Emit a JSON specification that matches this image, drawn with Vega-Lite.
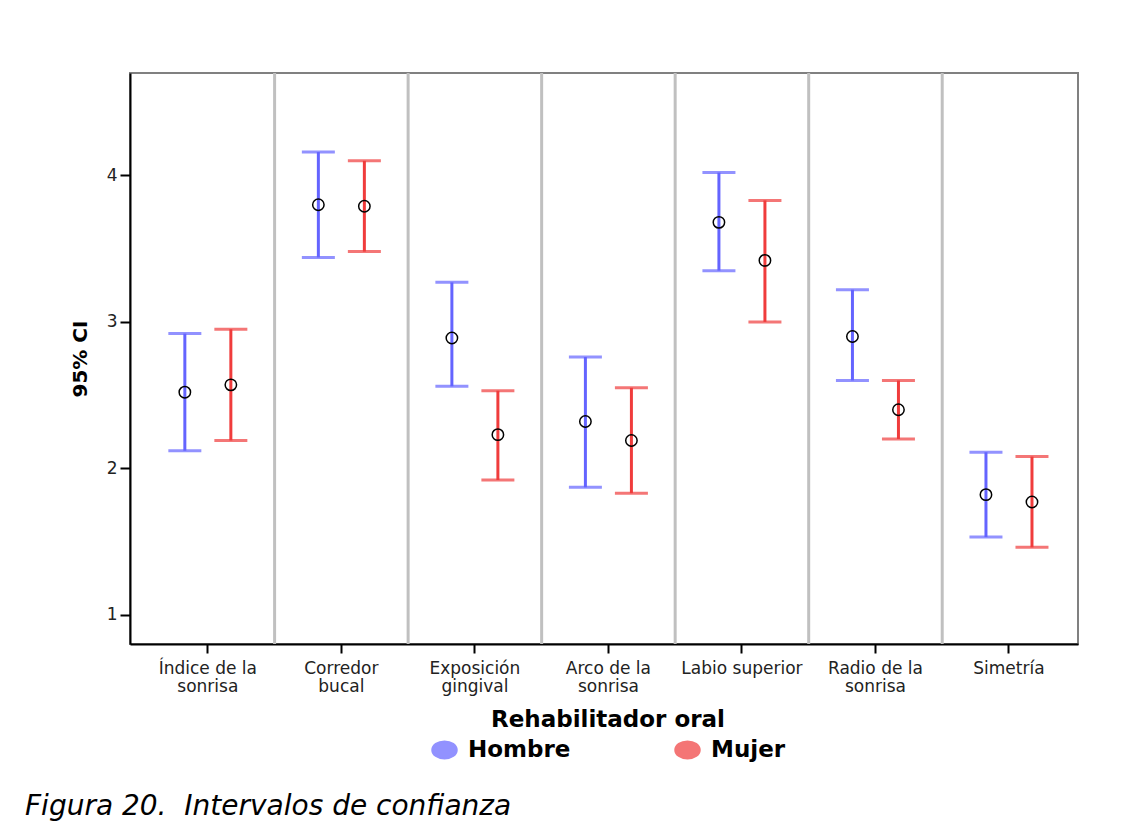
{
  "$schema": "https://vega.github.io/schema/vega-lite/v6.json",
  "width": 948,
  "height": 571,
  "autosize": {"type": "none"},
  "padding": {"left": 130, "top": 73, "right": 52, "bottom": 190},
  "background": "white",
  "title": {
    "text": "Figura 20.\u00a0 Intervalos de confianza",
    "orient": "bottom",
    "anchor": "start",
    "frame": "group",
    "font": "DejaVu Sans",
    "fontStyle": "italic",
    "fontWeight": "normal",
    "fontSize": 28,
    "color": "black",
    "dx": -105,
    "offset": 30
  },
  "config": {
    "view": {"stroke": "#808080", "strokeWidth": 2},
    "axis": {"grid": false, "labelFont": "DejaVu Sans", "labelFontSize": 17, "labelColor": "#222", "tickColor": "black", "domainColor": "black", "domainWidth": 2, "tickWidth": 2}
  },
  "data": {
    "values": [
      {"categoria": "Índice de la sonrisa", "sexo": "Hombre", "media": 2.52, "inferior": 2.12, "superior": 2.92},
      {"categoria": "Índice de la sonrisa", "sexo": "Mujer", "media": 2.57, "inferior": 2.19, "superior": 2.95},
      {"categoria": "Corredor bucal", "sexo": "Hombre", "media": 3.80, "inferior": 3.44, "superior": 4.16},
      {"categoria": "Corredor bucal", "sexo": "Mujer", "media": 3.79, "inferior": 3.48, "superior": 4.10},
      {"categoria": "Exposición gingival", "sexo": "Hombre", "media": 2.89, "inferior": 2.56, "superior": 3.27},
      {"categoria": "Exposición gingival", "sexo": "Mujer", "media": 2.23, "inferior": 1.92, "superior": 2.53},
      {"categoria": "Arco de la sonrisa", "sexo": "Hombre", "media": 2.32, "inferior": 1.87, "superior": 2.76},
      {"categoria": "Arco de la sonrisa", "sexo": "Mujer", "media": 2.19, "inferior": 1.83, "superior": 2.55},
      {"categoria": "Labio superior", "sexo": "Hombre", "media": 3.68, "inferior": 3.35, "superior": 4.02},
      {"categoria": "Labio superior", "sexo": "Mujer", "media": 3.42, "inferior": 3.00, "superior": 3.83},
      {"categoria": "Radio de la sonrisa", "sexo": "Hombre", "media": 2.90, "inferior": 2.60, "superior": 3.22},
      {"categoria": "Radio de la sonrisa", "sexo": "Mujer", "media": 2.40, "inferior": 2.20, "superior": 2.60},
      {"categoria": "Simetría", "sexo": "Hombre", "media": 1.82, "inferior": 1.53, "superior": 2.11},
      {"categoria": "Simetría", "sexo": "Mujer", "media": 1.77, "inferior": 1.46, "superior": 2.08}
    ]
  },
  "encoding": {
    "x": {
      "field": "categoria",
      "type": "nominal",
      "sort": null,
      "scale": {"paddingInner": 0, "paddingOuter": 0.05, "align": 0.83},
      "axis": {
        "title": null,
        "labelAngle": 0,
        "tickSize": 9,
        "labelPadding": 7,
        "labelLineHeight": 18,
        "labelExpr": "indexof(datum.label, ' sonrisa') > 0 ? [replace(datum.label, ' sonrisa', ''), 'sonrisa'] : (datum.label == 'Corredor bucal' || datum.label == 'Exposición gingival') ? split(datum.label, ' ') : datum.label"
      }
    }
  },
  "layer": [
    {
      "transform": [{"filter": "datum.sexo == 'Hombre' && datum.categoria != 'Simetría'"}],
      "mark": {"type": "rule", "color": "#c0c0c0", "strokeWidth": 3},
      "encoding": {
        "x": {"field": "categoria", "type": "nominal", "sort": null, "bandPosition": 1}
      }
    },
    {
      "mark": {"type": "rule", "strokeWidth": 3},
      "encoding": {
        "xOffset": {"field": "sexo", "type": "nominal", "scale": {"paddingInner": 0, "paddingOuter": 0.451}},
        "y": {
          "field": "inferior",
          "type": "quantitative",
          "scale": {"domain": [0.8, 4.7], "nice": false, "zero": false},
          "axis": {
            "title": "95% CI",
            "values": [1, 2, 3, 4],
            "format": "d",
            "titleFont": "DejaVu Sans",
            "titleFontSize": 20,
            "titleFontWeight": "bold",
            "titleColor": "black",
            "titlePadding": 16,
            "tickSize": 10,
            "labelPadding": 3
          }
        },
        "y2": {"field": "superior"},
        "color": {
          "field": "sexo",
          "type": "nominal",
          "scale": {"domain": ["Hombre", "Mujer"], "range": ["#6464ff", "#f03c3c"]},
          "legend": {
            "title": "Rehabilitador oral",
            "orient": "none",
            "legendX": 301,
            "legendY": 636,
            "direction": "horizontal",
            "titleAnchor": "middle",
            "titleFont": "DejaVu Sans",
            "titleFontSize": 23,
            "titleFontWeight": "bold",
            "titleColor": "black",
            "titleLimit": 500,
            "titlePadding": 4,
            "labelFont": "DejaVu Sans",
            "labelFontSize": 23,
            "labelFontWeight": "bold",
            "labelColor": "black",
            "labelLimit": 300,
            "labelOffset": 10,
            "columnPadding": 100,
            "symbolType": "M-1,0A1,0.7,0,1,0,1,0A1,0.7,0,1,0,-1,0Z",
            "symbolSize": 600,
            "symbolStrokeColor": "black",
            "symbolStrokeWidth": 2,
            "symbolOpacity": 1
          }
        }
      }
    },
    {
      "mark": {"type": "tick", "size": 33, "thickness": 3},
      "encoding": {
        "xOffset": {"field": "sexo", "type": "nominal"},
        "y": {"field": "inferior", "type": "quantitative"},
        "color": {"field": "sexo", "type": "nominal"}
      }
    },
    {
      "mark": {"type": "tick", "size": 33, "thickness": 3},
      "encoding": {
        "xOffset": {"field": "sexo", "type": "nominal"},
        "y": {"field": "superior", "type": "quantitative"},
        "color": {"field": "sexo", "type": "nominal"}
      }
    },
    {
      "mark": {"type": "point", "shape": "circle", "filled": false, "stroke": "black", "strokeWidth": 1.5, "size": 130, "opacity": 1},
      "encoding": {
        "xOffset": {"field": "sexo", "type": "nominal"},
        "y": {"field": "media", "type": "quantitative"}
      }
    }
  ]
}
